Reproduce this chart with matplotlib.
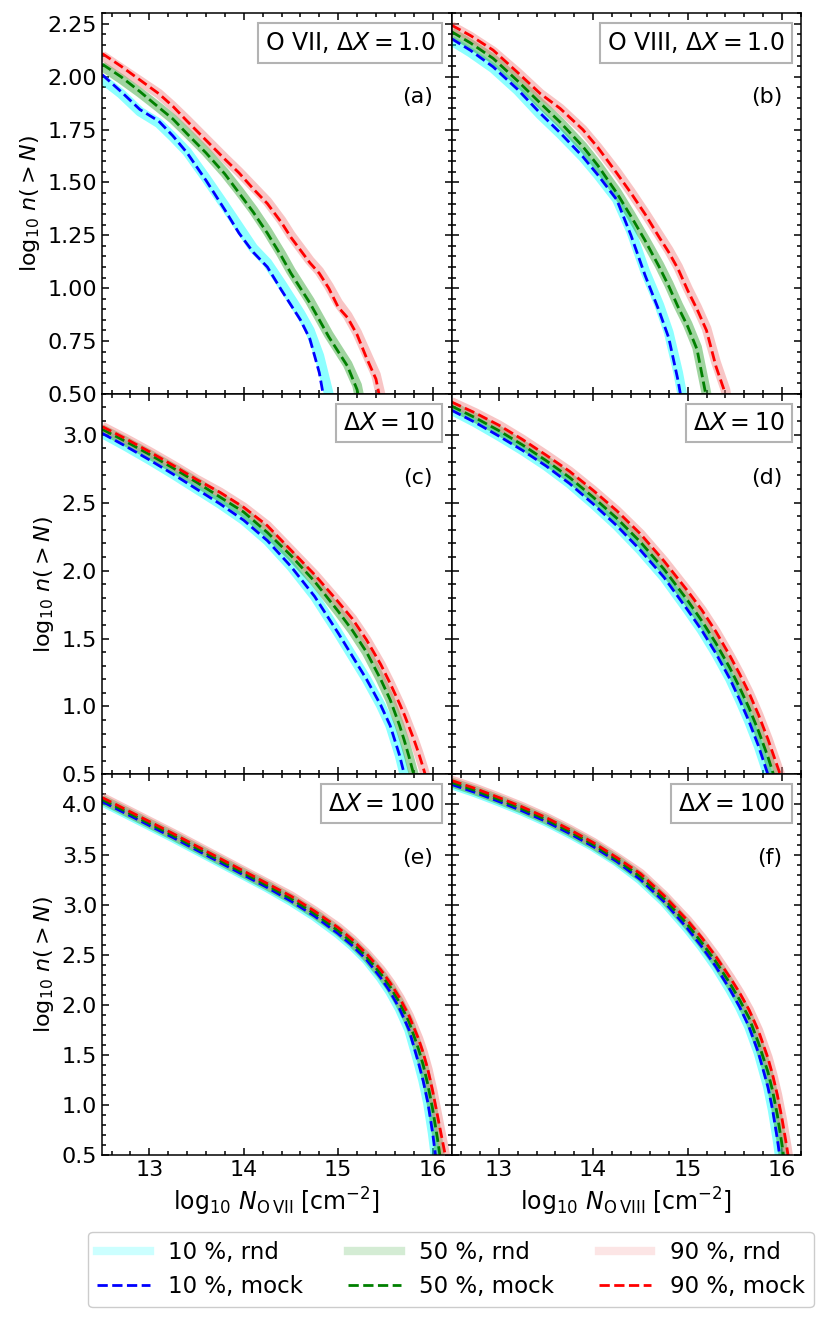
import numpy as np
import matplotlib
matplotlib.use("Agg")
import matplotlib.pyplot as plt
from matplotlib.lines import Line2D
from matplotlib.ticker import MultipleLocator, AutoMinorLocator

plt.rcParams['font.size'] = 16

# ---- data (log10 N grid per panel, log10 n(>N) per curve) ----
# (a) O VII, dX = 1.0
N_a = [12.5, 12.7, 12.9, 13.1, 13.25, 13.4, 13.6, 13.8, 13.95, 14.1, 14.25, 14.4,
       14.5, 14.6, 14.7, 14.8, 14.9, 15.0, 15.1, 15.2, 15.3, 15.4, 15.5, 15.6]
a_mock10 = [2.01, 1.93, 1.845, 1.79, 1.72, 1.64, 1.51, 1.37, 1.26, 1.17, 1.10, 0.99,
            0.92, 0.85, 0.76, 0.60, 0.35, 0.10, -0.1, -0.3, -0.5, -0.7, -0.9, -1.1]
a_mock50 = [2.06, 2.00, 1.93, 1.855, 1.80, 1.73, 1.64, 1.54, 1.45, 1.36, 1.26, 1.15,
            1.07, 1.00, 0.93, 0.85, 0.77, 0.70, 0.63, 0.52, 0.30, 0.10, -0.1, -0.3]
a_mock90 = [2.11, 2.05, 1.985, 1.92, 1.86, 1.79, 1.70, 1.61, 1.545, 1.47, 1.40, 1.31,
            1.24, 1.18, 1.12, 1.07, 1.00, 0.91, 0.86, 0.78, 0.67, 0.57, 0.35, 0.10]
a_rnd10 = [1.99, 1.92, 1.835, 1.78, 1.715, 1.645, 1.52, 1.39, 1.29, 1.19, 1.12, 1.02,
           0.95, 0.88, 0.80, 0.68, 0.50, 0.25, 0.0, -0.2, -0.4, -0.6, -0.8, -1.0]
a_rnd50 = [2.05, 1.99, 1.925, 1.855, 1.80, 1.735, 1.645, 1.545, 1.46, 1.37, 1.27, 1.16,
           1.08, 1.01, 0.94, 0.86, 0.78, 0.71, 0.64, 0.54, 0.32, 0.10, -0.1, -0.3]
a_rnd90 = [2.10, 2.04, 1.98, 1.92, 1.86, 1.795, 1.705, 1.615, 1.55, 1.48, 1.41, 1.32,
           1.25, 1.19, 1.13, 1.08, 1.01, 0.93, 0.87, 0.79, 0.69, 0.59, 0.40, 0.10]

# (b) O VIII, dX = 1.0
N_b = [12.5, 12.7, 12.94, 13.2, 13.44, 13.65, 13.89, 14.05, 14.25, 14.4, 14.55, 14.7,
       14.8, 14.9, 15.0, 15.1, 15.2, 15.3, 15.4, 15.5]
b_mock10 = [2.18, 2.125, 2.047, 1.94, 1.827, 1.735, 1.622, 1.535, 1.418, 1.25, 1.06, 0.89,
            0.765, 0.56, 0.30, 0.0, -0.3, -0.6, -0.9, -1.2]
b_mock50 = [2.213, 2.16, 2.087, 1.98, 1.875, 1.785, 1.67, 1.58, 1.45, 1.34, 1.225, 1.10,
            1.01, 0.91, 0.82, 0.71, 0.48, 0.20, -0.1, -0.4]
b_mock90 = [2.244, 2.195, 2.126, 2.02, 1.92, 1.85, 1.75, 1.665, 1.544, 1.45, 1.35, 1.24,
            1.17, 1.09, 0.99, 0.90, 0.80, 0.63, 0.50, 0.25]
b_rnd10 = [2.17, 2.115, 2.04, 1.935, 1.82, 1.73, 1.62, 1.535, 1.42, 1.27, 1.08, 0.92,
           0.79, 0.60, 0.36, 0.05, -0.3, -0.6, -0.9, -1.2]
b_rnd50 = [2.21, 2.155, 2.085, 1.98, 1.875, 1.785, 1.67, 1.58, 1.455, 1.345, 1.23, 1.11,
           1.02, 0.92, 0.83, 0.72, 0.50, 0.22, -0.1, -0.4]
b_rnd90 = [2.24, 2.19, 2.12, 2.02, 1.92, 1.85, 1.75, 1.665, 1.55, 1.455, 1.355, 1.25,
           1.18, 1.10, 1.00, 0.91, 0.81, 0.65, 0.52, 0.28]

# (c) O VII, dX = 10
N_c = [12.5, 12.75, 13.0, 13.25, 13.5, 13.75, 14.0, 14.25, 14.5, 14.75, 15.0, 15.15,
       15.3, 15.45, 15.55, 15.65, 15.7, 15.75, 15.8, 15.85, 15.9, 15.95, 16.0]
c_mock10 = [3.01, 2.915, 2.815, 2.71, 2.60, 2.49, 2.37, 2.22, 2.03, 1.81, 1.54, 1.37,
            1.20, 1.01, 0.86, 0.64, 0.50, 0.35, 0.20, 0.0, -0.2, -0.4, -0.6]
c_mock50 = [3.04, 2.95, 2.855, 2.755, 2.65, 2.54, 2.43, 2.28, 2.11, 1.92, 1.70, 1.56,
            1.40, 1.20, 1.05, 0.86, 0.75, 0.63, 0.50, 0.36, 0.20, 0.0, -0.2]
c_mock90 = [3.06, 2.97, 2.875, 2.775, 2.67, 2.575, 2.465, 2.33, 2.15, 1.97, 1.77, 1.645,
            1.49, 1.31, 1.17, 1.02, 0.94, 0.85, 0.76, 0.66, 0.55, 0.43, 0.30]

# (d) O VIII, dX = 10
N_d = [12.5, 12.75, 13.0, 13.25, 13.5, 13.75, 14.0, 14.25, 14.5, 14.75, 15.0, 15.15,
       15.3, 15.45, 15.55, 15.65, 15.75, 15.85, 15.9, 15.95, 16.0, 16.05, 16.1]
d_mock10 = [3.18, 3.09, 2.99, 2.885, 2.77, 2.64, 2.49, 2.33, 2.15, 1.95, 1.71, 1.56,
            1.39, 1.20, 1.05, 0.89, 0.71, 0.50, 0.38, 0.25, 0.10, -0.1, -0.3]
d_mock50 = [3.21, 3.125, 3.03, 2.925, 2.81, 2.685, 2.54, 2.385, 2.21, 2.01, 1.78, 1.63,
            1.465, 1.28, 1.14, 0.99, 0.82, 0.63, 0.52, 0.41, 0.29, 0.16, 0.0]
d_mock90 = [3.24, 3.16, 3.07, 2.965, 2.85, 2.73, 2.59, 2.44, 2.27, 2.07, 1.85, 1.71,
            1.55, 1.37, 1.24, 1.10, 0.94, 0.76, 0.66, 0.56, 0.46, 0.34, 0.20]

# (e) O VII, dX = 100
N_e = [12.5, 12.75, 13.0, 13.25, 13.5, 13.75, 14.0, 14.25, 14.5, 14.75, 15.0, 15.15,
       15.3, 15.45, 15.55, 15.65, 15.75, 15.85, 15.9, 15.95, 16.0, 16.05, 16.1, 16.15, 16.2]
e_mock10 = [4.03, 3.91, 3.79, 3.67, 3.545, 3.42, 3.295, 3.17, 3.035, 2.885, 2.71, 2.59,
            2.45, 2.27, 2.13, 1.96, 1.75, 1.42, 1.24, 1.02, 0.72, 0.35, 0.0, -0.3, -0.6]
e_mock50 = [4.05, 3.93, 3.81, 3.69, 3.565, 3.44, 3.315, 3.19, 3.06, 2.91, 2.74, 2.62,
            2.48, 2.31, 2.18, 2.02, 1.83, 1.56, 1.40, 1.20, 0.96, 0.67, 0.35, 0.0, -0.3]
e_mock90 = [4.07, 3.95, 3.83, 3.71, 3.585, 3.46, 3.335, 3.21, 3.085, 2.935, 2.77, 2.65,
            2.51, 2.35, 2.22, 2.07, 1.89, 1.66, 1.52, 1.35, 1.14, 0.90, 0.66, 0.42, 0.15]

# (f) O VIII, dX = 100
N_f = [12.5, 12.75, 13.0, 13.25, 13.5, 13.75, 14.0, 14.25, 14.5, 14.75, 15.0, 15.15,
       15.3, 15.45, 15.55, 15.65, 15.75, 15.85, 15.9, 15.95, 16.0, 16.05, 16.1, 16.15, 16.2]
f_mock10 = [4.20, 4.12, 4.03, 3.935, 3.83, 3.71, 3.58, 3.43, 3.25, 3.03, 2.76, 2.58,
            2.38, 2.15, 1.98, 1.78, 1.52, 1.18, 0.95, 0.66, 0.32, -0.05, -0.4, -0.7, -1.0]
f_mock50 = [4.22, 4.14, 4.05, 3.955, 3.85, 3.73, 3.60, 3.45, 3.28, 3.06, 2.80, 2.62,
            2.43, 2.21, 2.05, 1.87, 1.62, 1.33, 1.14, 0.90, 0.60, 0.25, -0.1, -0.4, -0.7]
f_mock90 = [4.24, 4.16, 4.07, 3.975, 3.87, 3.75, 3.62, 3.47, 3.31, 3.09, 2.84, 2.67,
            2.48, 2.27, 2.12, 1.95, 1.74, 1.47, 1.30, 1.10, 0.86, 0.58, 0.27, -0.05, -0.4]

box_labels = [r'O VII, $\Delta X = 1.0$', r'O VIII, $\Delta X = 1.0$',
              r'$\Delta X = 10$', r'$\Delta X = 10$',
              r'$\Delta X = 100$', r'$\Delta X = 100$']
panel_tags = ['(a)', '(b)', '(c)', '(d)', '(e)', '(f)']
pct_labels = ['10 %', '50 %', '90 %']

rnd_colors = ['cyan', 'tab:green', 'lightcoral']
mock_colors = ['blue', 'green', 'red']

# rnd curves coincide with the mock ones for dX = 10 and 100
panels = [
    (N_a, [a_rnd10, a_rnd50, a_rnd90], [a_mock10, a_mock50, a_mock90]),
    (N_b, [b_rnd10, b_rnd50, b_rnd90], [b_mock10, b_mock50, b_mock90]),
    (N_c, [c_mock10, c_mock50, c_mock90], [c_mock10, c_mock50, c_mock90]),
    (N_d, [d_mock10, d_mock50, d_mock90], [d_mock10, d_mock50, d_mock90]),
    (N_e, [e_mock10, e_mock50, e_mock90], [e_mock10, e_mock50, e_mock90]),
    (N_f, [f_mock10, f_mock50, f_mock90], [f_mock10, f_mock50, f_mock90]),
]
ylims = [(0.5, 2.3), (0.5, 3.3), (0.5, 4.3)]
ymajor = [0.25, 0.5, 0.5]

fig, axes = plt.subplots(3, 2, figsize=(8.3, 13.3), dpi=100, sharex=True)
fig.subplots_adjust(left=0.123, right=0.965, top=0.99, bottom=0.1316, hspace=0, wspace=0)

for i, ax in enumerate(axes.flat):
    row, col = divmod(i, 2)
    N, rnds, mocks = panels[i]
    for y, c in zip(rnds, rnd_colors):
        ax.plot(N, y, color=c, lw=7, alpha=0.45, solid_capstyle='butt')
    for y, c in zip(mocks, mock_colors):
        ax.plot(N, y, color=c, lw=2, ls='--')

    ax.set_xlim(12.5, 16.2)
    ax.set_ylim(*ylims[row])
    ax.xaxis.set_major_locator(MultipleLocator(1))
    ax.xaxis.set_minor_locator(AutoMinorLocator())
    ax.yaxis.set_major_locator(MultipleLocator(ymajor[row]))
    ax.yaxis.set_minor_locator(AutoMinorLocator())
    ax.tick_params(which='both', direction='in', top=True, right=True, width=1.1)
    ax.tick_params(which='major', length=5)
    ax.tick_params(which='minor', length=3)
    for sp in ax.spines.values():
        sp.set_linewidth(1.1)
    if col == 1:
        ax.tick_params(labelleft=False)
    else:
        ax.set_ylabel(r'$\log_{10}\, n(> N)$')

    ax.text(0.953, 0.955, box_labels[i], transform=ax.transAxes, ha='right', va='top',
            fontsize=17,
            bbox=dict(boxstyle='square,pad=0.3', facecolor='white', edgecolor='0.7', lw=1.5))
    ax.text(0.946, 0.78, panel_tags[i], transform=ax.transAxes, ha='right', va='center')

axes[2, 0].set_xlabel(r'$\log_{10}\, N_{\mathrm{O\,VII}}\;[\mathrm{cm}^{-2}]$', fontsize=17)
axes[2, 1].set_xlabel(r'$\log_{10}\, N_{\mathrm{O\,VIII}}\;[\mathrm{cm}^{-2}]$', fontsize=17)

handles = []
labels = []
for k in range(3):
    handles.append(Line2D([], [], color=rnd_colors[k], lw=6, alpha=0.2))
    labels.append(pct_labels[k] + ', rnd')
    handles.append(Line2D([], [], color=mock_colors[k], lw=2, ls='--'))
    labels.append(pct_labels[k] + ', mock')
fig.legend(handles, labels, ncol=3, loc='center', mode='expand',
           bbox_to_anchor=(0.106, 0.0455, 0.8747, 0.0), borderaxespad=0,
           fontsize=16.5, handlelength=2.3, framealpha=1)

fig.savefig('out.png', dpi=100)
